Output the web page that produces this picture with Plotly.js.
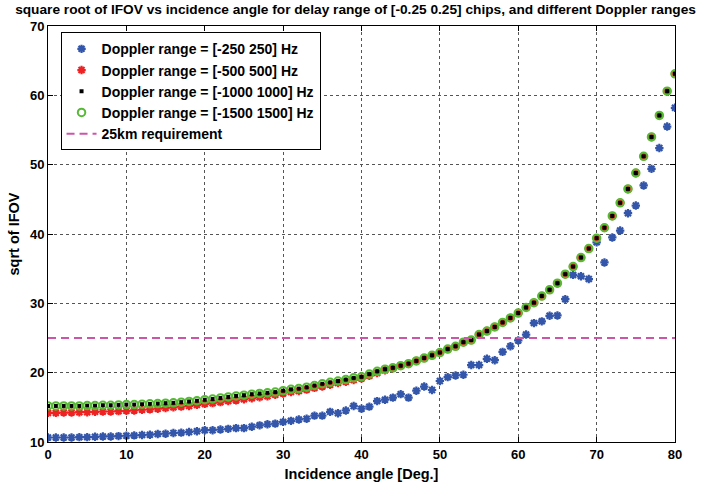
<!DOCTYPE html>
<html>
<head>
<meta charset="utf-8">
<script src="https://cdn.plot.ly/plotly-3.0.1.min.js"></script>
<style>html,body{margin:0;padding:0;background:#fff;}#chart{width:711px;height:487px;}</style>
</head>
<body>
<div id="chart"></div>
<script>
var angles = [];
for (var i = 0; i <= 80; i++) angles.push(i);

var doppler250 = [10.65,10.65,10.65,10.65,10.7,10.7,10.75,10.8,10.8,10.85,
  10.9,10.95,11.0,11.05,11.15,11.2,11.3,11.35,11.45,11.55,
  11.7,11.7,11.8,11.9,12.0,12.0,12.2,12.4,12.55,12.65,
  12.9,13.05,13.25,13.35,13.8,13.8,14.35,14.15,14.55,15.2,
  14.8,15.1,15.9,16.1,16.4,16.9,16.4,17.4,18.0,17.5,
  18.8,19.35,19.6,19.7,21.1,21.1,22.0,21.8,23.0,23.8,
  24.65,25.5,27.15,27.4,28.2,28.25,30.6,34.1,33.9,33.5,
  38.8,35.9,39.5,40.5,43.0,44.1,47.0,49.4,52.4,55.5,58.2];

var doppler500 = [14.2,14.2,14.25,14.25,14.3,14.3,14.35,14.4,14.4,14.45,
  14.5,14.55,14.65,14.7,14.8,14.9,15.0,15.1,15.2,15.35,
  15.5,15.6,15.75,15.9,16.0,16.15,16.3,16.45,16.6,16.8,
  17.0,17.2,17.35,17.55,17.8,18.0,18.25,18.5,18.7,18.95,
  19.15,19.55,19.95,20.35,20.65,21.0,21.3,21.7,22.1,22.5,
  22.9,23.4,23.8,24.4,24.7,25.5,26.0,26.6,27.25,27.9,
  28.6,29.4,30.1,31.05,31.95,32.9,34.2,35.3,36.6,37.9,
  39.4,40.9,42.6,44.5,46.5,48.8,51.2,54.0,57.1,60.6,63.1];

var doppler1000 = [15.2,15.2,15.2,15.2,15.2,15.25,15.25,15.3,15.3,15.35,
  15.4,15.4,15.45,15.5,15.55,15.6,15.65,15.75,15.85,15.95,
  16.1,16.2,16.35,16.5,16.65,16.75,16.9,17.0,17.1,17.2,
  17.4,17.6,17.7,17.9,18.15,18.4,18.6,18.8,19.0,19.25,
  19.4,19.8,20.2,20.5,20.7,21.0,21.3,21.7,22.1,22.5,
  22.9,23.4,23.8,24.4,24.7,25.5,26.0,26.6,27.25,27.9,
  28.6,29.4,30.1,31.05,31.95,32.9,34.2,35.3,36.6,37.9,
  39.4,40.9,42.6,44.5,46.5,48.8,51.2,54.0,57.1,60.6,63.1];

var doppler1500 = [15.2,15.2,15.2,15.2,15.2,15.25,15.25,15.3,15.3,15.35,
  15.4,15.4,15.45,15.5,15.55,15.6,15.65,15.75,15.85,15.95,
  16.1,16.2,16.35,16.5,16.65,16.75,16.9,17.0,17.1,17.2,
  17.4,17.6,17.7,17.9,18.15,18.4,18.6,18.8,19.0,19.25,
  19.4,19.8,20.2,20.5,20.7,21.0,21.3,21.7,22.1,22.5,
  22.9,23.4,23.8,24.4,24.7,25.5,26.0,26.6,27.25,27.9,
  28.6,29.4,30.1,31.05,31.95,32.9,34.2,35.3,36.6,37.9,
  39.4,40.9,42.6,44.5,46.5,48.8,51.2,54.0,57.1,60.6,63.1];

var reqX = [0, 80];
var reqY = [25, 25];

var seriesNames = ['Doppler range = [-250 250] Hz','Doppler range = [-500 500] Hz',
  'Doppler range = [-1000 1000] Hz','Doppler range = [-1500 1500] Hz','25km requirement'];

var FONT = 'Liberation Sans, Arial, sans-serif';

var traces = [
  {x: angles, y: doppler250, name: seriesNames[0], mode: 'markers', legendgroup: 'a',
   marker: {symbol: 'asterisk-open', size: 7, color: '#3355aa', line: {color: '#3355aa', width: 2.2}}},
  {x: angles, y: doppler500, name: seriesNames[1], mode: 'markers', legendgroup: 'b',
   marker: {symbol: 'asterisk-open', size: 7, color: '#ee2222', line: {color: '#ee2222', width: 2.2}}},
  {x: angles, y: doppler1000, name: seriesNames[2], mode: 'markers', legendgroup: 'c',
   marker: {symbol: 'square', size: 4, color: '#000000', line: {width: 0}}},
  {x: angles, y: doppler1500, name: seriesNames[3], mode: 'markers', legendgroup: 'd',
   marker: {symbol: 'circle-open', size: 7.5, color: '#55bb33', line: {color: '#55bb33', width: 2}}},
  {x: reqX, y: reqY, name: seriesNames[4], mode: 'lines', legendgroup: 'e',
   line: {color: '#cc55aa', width: 2, dash: '8px,5px'}}
];

var axisCommon = {
  showline: true, linecolor: '#000', linewidth: 1, mirror: 'ticks',
  ticks: 'inside', ticklen: 5, tickcolor: '#000',
  showgrid: true, gridcolor: '#555', griddash: 'dot', gridwidth: 1,
  zeroline: false,
  tickfont: {family: FONT, size: 13, color: '#000', weight: 'bold'}
};

var layout = {
  width: 711, height: 487,
  margin: {l: 48, r: 36, t: 26, b: 45},
  paper_bgcolor: '#fff', plot_bgcolor: '#fff',
  title: {text: 'square root of IFOV vs incidence angle for delay range of [-0.25 0.25] chips, and different Doppler ranges',
          font: {family: FONT, size: 13.7, color: '#000', weight: 'bold'}, x: 0.5, xanchor: 'center', y: 0.99, yanchor: 'top'},
  xaxis: Object.assign({}, axisCommon, {range: [0, 80], dtick: 10,
          title: {text: 'Incidence angle [Deg.]', font: {family: FONT, size: 14.5, color: '#000', weight: 'bold'}, standoff: 8}}),
  yaxis: Object.assign({}, axisCommon, {range: [10, 70], dtick: 10,
          title: {text: 'sqrt of IFOV', font: {family: FONT, size: 14.5, color: '#000', weight: 'bold'}, standoff: 6}}),
  showlegend: true,
  legend: {x: 0.02, y: 0.985, xanchor: 'left', yanchor: 'top',
           bgcolor: '#fff', bordercolor: '#000', borderwidth: 1,
           tracegroupgap: 0,
           font: {family: FONT, size: 14, color: '#000', weight: 'bold'}}
};

Plotly.newPlot('chart', traces, layout, {displayModeBar: false, staticPlot: true});
</script>
</body>
</html>
